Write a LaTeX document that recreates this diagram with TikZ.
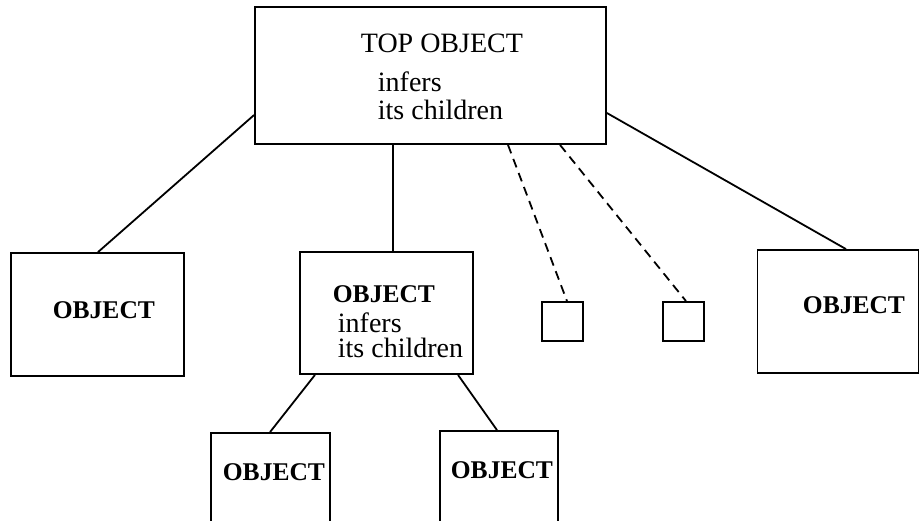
\documentclass[tikz,border=0pt]{standalone}
\usepackage{fontspec}
\setmainfont{Liberation Serif}
\begin{document}
\begin{tikzpicture}[x=1pt,y=-1pt,
  line width=1.8pt,
  box/.style={draw, rectangle, inner sep=0pt},
  reg/.style={inner sep=0pt, anchor=base west, font=\fontsize{28}{28}\selectfont},
  note/.style={inner sep=0pt, anchor=base west, align=left},
  bld/.style={inner sep=0pt, anchor=base west, font=\fontsize{25.5}{26}\selectfont\bfseries},
  link/.style={line width=1.8pt},
  maybe/.style={line width=1.8pt, dash pattern=on 9pt off 6pt}]
\useasboundingbox (0,0) rectangle (920,521);
\clip (0,0) rectangle (920,521);

% boxes
\node[box, minimum width=351pt, minimum height=137pt] (top) at (430.5,75.5) {};
\node[box, minimum width=173pt, minimum height=123pt] (left) at (97.5,314.5) {};
\node[box, minimum width=173pt, minimum height=122pt] (mid) at (386.5,313) {};
\node[box, minimum width=41pt, minimum height=39pt] (sqa) at (562.5,321.5) {};
\node[box, minimum width=41pt, minimum height=39pt] (sqb) at (683.5,321.5) {};
\node[box, minimum width=161pt, minimum height=123pt] (right) at (838,311.5) {};
\node[box, minimum width=119pt, minimum height=127pt] (bl) at (270.5,496.5) {};
\node[box, minimum width=118pt, minimum height=129pt] (br) at (499,495.5) {};

% labels (multi-line notes are anchored at the baseline of their last line)
\node[reg] (toptitle) at (360,53) {TOP OBJECT};
\node[note, font=\fontsize{28}{28}\selectfont] (topnote) at (377,120) {infers\\its children};
\node[bld] (lefttitle) at (52,318) {OBJECT};
\node[bld] (midtitle) at (332,302) {OBJECT};
\node[note, font=\fontsize{28}{25}\selectfont] (midnote) at (337,357) {infers\\its children};
\node[bld] (righttitle) at (802,313) {OBJECT};
\node[bld] (bltitle) at (222,480) {OBJECT};
\node[bld] (brtitle) at (450,478) {OBJECT};

% connectors
\draw[link] ([yshift=-39.5pt]top.west) -- ([xshift=0.5pt]left.north);
\draw[link] ([xshift=-37.5pt]top.south) -- ([xshift=6.5pt]mid.north);
\draw[maybe] ([xshift=77.5pt]top.south) -- ([xshift=4.5pt]sqa.north);
\draw[maybe] ([xshift=129.5pt]top.south) -- ([xshift=2.5pt]sqb.north);
\draw[link] ([yshift=-37.5pt]top.east) -- ([xshift=8pt]right.north);
\draw[link] ([xshift=-71.5pt]mid.south) -- ([xshift=-0.5pt]bl.north);
\draw[link] ([xshift=71.5pt]mid.south) -- ([xshift=-2pt]br.north);
\end{tikzpicture}
\end{document}
